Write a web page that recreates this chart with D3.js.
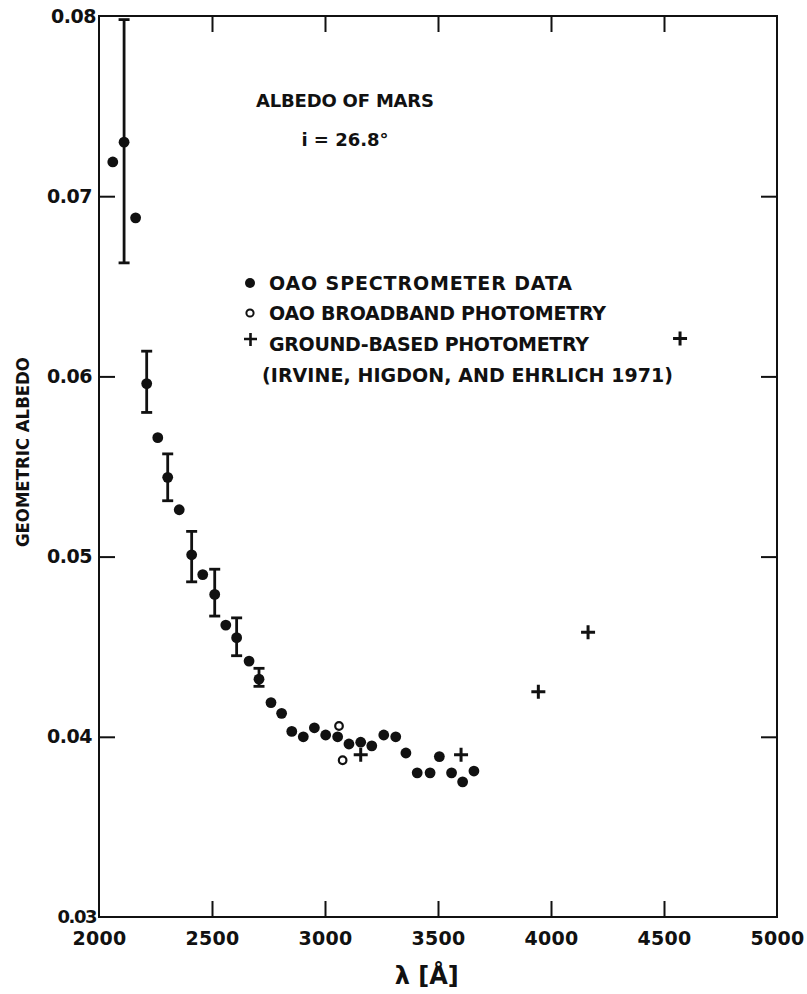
<!DOCTYPE html>
<html>
<head>
<meta charset="utf-8">
<script src="https://cdn.jsdelivr.net/npm/d3@7"></script>
<style>
  html, body { margin: 0; padding: 0; background: #fff; }
  svg { display: block; }
  text { font-family: "DejaVu Sans", sans-serif; fill: #111; }
</style>
</head>
<body>
<svg id="chart" width="807" height="994"></svg>
<script>
// ---- data ----
const specLambda = [2061, 2111, 2162, 2211, 2260, 2304, 2355, 2410, 2459, 2512, 2561, 2609, 2664, 2708, 2761, 2808, 2853, 2904, 2953, 3003, 3056, 3106, 3158, 3207, 3260, 3313, 3358, 3408, 3465, 3506, 3560, 3609, 3659];
const specAlbedo = [0.0719, 0.0730, 0.0688, 0.0596, 0.0566, 0.0544, 0.0526, 0.0501, 0.0490, 0.0479, 0.0462, 0.0455, 0.0442, 0.0432, 0.0419, 0.0413, 0.0403, 0.0400, 0.0405, 0.0401, 0.0400, 0.0396, 0.0397, 0.0395, 0.0401, 0.0400, 0.0391, 0.0380, 0.0380, 0.0389, 0.0380, 0.0375, 0.0381];

const errLambda = [2111, 2211, 2304, 2410, 2512, 2609, 2708];
const errLow    = [0.0663, 0.0580, 0.0531, 0.0486, 0.0467, 0.0445, 0.0428];
const errHigh   = [0.0798, 0.0614, 0.0557, 0.0514, 0.0493, 0.0466, 0.0438];

const broadLambda = [3062, 3078];
const broadAlbedo = [0.0406, 0.0387];

const groundLambda = [3158, 3602, 3944, 4164, 4571];
const groundAlbedo = [0.0390, 0.0390, 0.0425, 0.0458, 0.0621];

const xTicks = [2000, 2500, 3000, 3500, 4000, 4500, 5000];
const yTicks = [0.03, 0.04, 0.05, 0.06, 0.07, 0.08];

const titleLines = ["ALBEDO OF MARS", "i = 26.8°"];
const legendLabels = ["OAO SPECTROMETER DATA", "OAO BROADBAND PHOTOMETRY", "GROUND-BASED PHOTOMETRY", "(IRVINE, HIGDON, AND EHRLICH 1971)"];
const xTitle = "λ [Å]";
const yTitle = "GEOMETRIC ALBEDO";

// ---- layout ----
const W = 807, H = 994;
const m = { left: 99, right: 30, top: 16, bottom: 77 };
const svg = d3.select("#chart");
const x = d3.scaleLinear().domain([2000, 5000]).range([m.left, W - m.right]);
const y = d3.scaleLinear().domain([0.03, 0.08]).range([H - m.bottom, m.top]);
const ink = "#111";
const heavy = sel => sel.attr("fill", ink).attr("font-weight", "bold")
  .attr("font-family", "DejaVu Sans");

// frame
svg.append("rect")
  .attr("x", x(2000)).attr("y", y(0.08))
  .attr("width", x(5000) - x(2000)).attr("height", y(0.03) - y(0.08))
  .attr("fill", "none").attr("stroke", ink).attr("stroke-width", 2);

const tl = 16;
const innerX = xTicks.filter(d => d > 2000 && d < 5000);
const innerY = yTicks.filter(d => d > 0.03 && d < 0.08);

const gBottom = svg.append("g").attr("transform", `translate(0,${y(0.03)})`)
  .call(d3.axisBottom(x).tickValues(xTicks).tickSize(-tl).tickFormat(d3.format("d")).tickPadding(15));
const gTop = svg.append("g").attr("transform", `translate(0,${y(0.08)})`)
  .call(d3.axisTop(x).tickValues(innerX).tickSize(-tl).tickFormat(""));
const gLeft = svg.append("g").attr("transform", `translate(${x(2000)},0)`)
  .call(d3.axisLeft(y).tickValues(yTicks).tickSize(-tl).tickFormat(d3.format(".2f")).tickPadding(7));
const gRight = svg.append("g").attr("transform", `translate(${x(5000)},0)`)
  .call(d3.axisRight(y).tickValues(innerY).tickSize(-tl).tickFormat(""));

[gBottom, gTop, gLeft, gRight].forEach(g => {
  g.select(".domain").remove();
  g.selectAll(".tick line").attr("stroke", ink).attr("stroke-width", 2);
});
gBottom.selectAll(".tick").filter(d => d === 2000 || d === 5000).select("line").remove();
gLeft.selectAll(".tick").filter(d => d === 0.03 || d === 0.08).select("line").remove();

gBottom.selectAll(".tick text").attr("font-size", 19).attr("letter-spacing", 0.3).call(heavy);
gLeft.selectAll(".tick text").attr("font-size", 19).attr("letter-spacing", -0.5).call(heavy);
gLeft.selectAll(".tick").filter(d => d === 0.08).select("text").attr("x", -3);
gLeft.selectAll(".tick").filter(d => d === 0.03).select("text")
  .attr("x", -3).attr("font-size", 18).attr("letter-spacing", -1.5);

// axis titles
svg.append("text")
  .attr("x", x(3450)).attr("y", 984)
  .attr("text-anchor", "middle").attr("font-size", 24)
  .call(heavy)
  .text(xTitle);
svg.append("text")
  .attr("transform", `translate(29,${y(0.0558)}) rotate(-90)`)
  .attr("text-anchor", "middle").attr("font-size", 18)
  .call(heavy)
  .attr("textLength", 190).attr("lengthAdjust", "spacingAndGlyphs")
  .text(yTitle);

// title block
svg.append("text").attr("x", 345).attr("y", 107)
  .attr("text-anchor", "middle").attr("font-size", 18)
  .call(heavy)
  .attr("textLength", 178).attr("lengthAdjust", "spacing")
  .text(titleLines[0]);
svg.append("text").attr("x", 345).attr("y", 146)
  .attr("text-anchor", "middle").attr("font-size", 18)
  .call(heavy)
  .text(titleLines[1]);

// legend
const legY = [283, 313, 344, 375];
const legLen = [303, 337, 320, 411];
legendLabels.forEach((t, i) => {
  svg.append("text")
    .attr("x", i === 3 ? 262 : 269).attr("y", legY[i] + 7)
    .attr("font-size", 19)
    .call(heavy)
    .attr("textLength", legLen[i]).attr("lengthAdjust", "spacing")
    .text(t);
});
svg.append("circle").attr("cx", 250).attr("cy", legY[0]).attr("r", 5).attr("fill", ink);
svg.append("circle").attr("cx", 250).attr("cy", legY[1]).attr("r", 3.6)
  .attr("fill", "none").attr("stroke", ink).attr("stroke-width", 2);
svg.append("path").attr("d", `M244,${legY[2] - 5}h13M250.5,${legY[2] - 11}v13`)
  .attr("stroke", ink).attr("stroke-width", 2.6);

// error bars
const eb = svg.append("g");
errLambda.forEach((l, i) => {
  const cx = x(l), y0 = y(errLow[i]), y1 = y(errHigh[i]);
  eb.append("line").attr("x1", cx).attr("x2", cx).attr("y1", y0).attr("y2", y1)
    .attr("stroke", ink).attr("stroke-width", 2.8);
  [y0, y1].forEach(yy => eb.append("line")
    .attr("x1", cx - 5.5).attr("x2", cx + 5.5).attr("y1", yy).attr("y2", yy)
    .attr("stroke", ink).attr("stroke-width", 2.8));
});

// OAO spectrometer
svg.append("g").selectAll("circle").data(specLambda).join("circle")
  .attr("cx", d => x(d)).attr("cy", (d, i) => y(specAlbedo[i])).attr("r", 5.4).attr("fill", ink);

// broadband
svg.append("g").selectAll("circle").data(broadLambda).join("circle")
  .attr("cx", d => x(d)).attr("cy", (d, i) => y(broadAlbedo[i])).attr("r", 3.8)
  .attr("fill", "#fff").attr("stroke", ink).attr("stroke-width", 2.2);

// ground-based
svg.append("g").selectAll("path").data(groundLambda).join("path")
  .attr("d", (d, i) => {
    const cx = x(d), cy = y(groundAlbedo[i]);
    return `M${cx - 7},${cy}h14M${cx},${cy - 7}v14`;
  })
  .attr("stroke", ink).attr("stroke-width", 3);
</script>
</body>
</html>
